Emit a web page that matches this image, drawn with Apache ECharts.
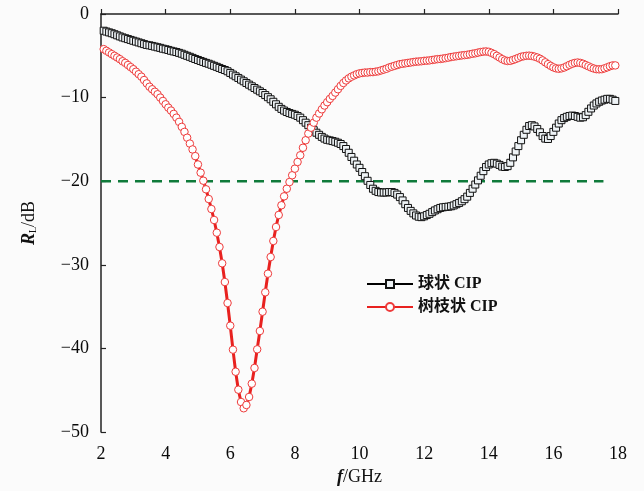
<!DOCTYPE html>
<html>
<head>
<meta charset="utf-8">
<script src="https://cdn.jsdelivr.net/npm/echarts@6/dist/echarts.min.js"></script>
<style>
  html, body { margin: 0; padding: 0; background: #fbfbfb; }
  #chart { width: 644px; height: 491px; }
</style>
</head>
<body>
<div id="chart"></div>
<script>
// Frequency sampling grid: 2 GHz + k/12 GHz, k = 1..191
const freqStep = 1 / 12;
const freqs = Array.from({ length: 191 }, (_, i) => 2 + (i + 1) * freqStep);

// Reflection loss (dB) of spherical CIP
const sphericalRL = [
  -2.0, -2.1, -2.2, -2.3, -2.42, -2.55, -2.68, -2.8, -2.9, -3.0,
  -3.1, -3.2, -3.3, -3.4, -3.5, -3.6, -3.7, -3.75, -3.82, -3.9,
  -3.98, -4.05, -4.15, -4.22, -4.3, -4.4, -4.48, -4.55, -4.65, -4.75,
  -4.88, -5.0, -5.12, -5.25, -5.38, -5.5, -5.62, -5.73, -5.85, -5.95,
  -6.07, -6.2, -6.32, -6.45, -6.58, -6.7, -6.85, -7.05, -7.25, -7.45,
  -7.65, -7.85, -8.05, -8.25, -8.45, -8.65, -8.85, -9.05, -9.25, -9.45,
  -9.7, -9.95, -10.2, -10.5, -10.8, -11.1, -11.35, -11.55, -11.72, -11.85,
  -11.95, -12.05, -12.2, -12.4, -12.7, -13.0, -13.3, -13.6, -13.9, -14.2,
  -14.45, -14.7, -14.9, -15.05, -15.12, -15.2, -15.28, -15.4, -15.55, -15.8,
  -16.15, -16.6, -17.1, -17.55, -18.0, -18.4, -18.9, -19.4, -19.95, -20.45,
  -20.9, -21.15, -21.3, -21.35, -21.35, -21.35, -21.3, -21.3, -21.4, -21.6,
  -21.9, -22.3, -22.75, -23.2, -23.55, -23.85, -24.1, -24.25, -24.3, -24.2,
  -24.05, -23.9, -23.7, -23.5, -23.35, -23.2, -23.12, -23.08, -23.05, -23.0,
  -22.9, -22.75, -22.6, -22.4, -22.15, -21.85, -21.4, -20.9, -20.4, -19.9,
  -19.35, -18.8, -18.3, -18.0, -17.85, -17.8, -17.9, -18.05, -18.25, -18.3,
  -18.2, -17.8, -17.15, -16.45, -15.8, -15.1, -14.45, -13.85, -13.4, -13.3,
  -13.45, -13.75, -14.15, -14.6, -14.9, -14.95, -14.6, -14.1, -13.6, -13.1,
  -12.7, -12.45, -12.3, -12.2, -12.15, -12.2, -12.3, -12.4, -12.35, -12.1,
  -11.7, -11.3, -10.95, -10.7, -10.5, -10.35, -10.25, -10.15, -10.15, -10.25, -10.4
];

// Reflection loss (dB) of dendritic CIP
const dendriticRL = [
  -4.2, -4.4, -4.6, -4.8, -5.0, -5.2, -5.4, -5.65, -5.85, -6.1,
  -6.35, -6.6, -6.9, -7.2, -7.5, -7.9, -8.3, -8.7, -9.0, -9.3,
  -9.6, -10.0, -10.4, -10.8, -11.2, -11.55, -11.95, -12.4, -12.9, -13.5,
  -14.1, -14.8, -15.5, -16.2, -17.0, -18.0,
  -18.98, -19.94, -20.97, -22.13, -23.33, -24.64, -26.16, -27.87, -29.82, -32.06,
  -34.57, -37.28, -40.15, -42.79, -44.94, -46.41, -47.16,
  -46.77, -45.81, -44.22, -42.34, -40.11, -37.92, -35.61, -33.29, -31.06, -29.07,
  -27.15, -25.48, -24.04, -22.88, -21.81, -20.90, -20.10, -19.29,
  -18.5, -17.7, -16.9, -16.0, -15.1, -14.3, -13.6, -13.0, -12.4, -11.9,
  -11.4, -10.95, -10.55, -10.15, -9.8, -9.4, -9.0, -8.6, -8.25,
  -7.95, -7.7, -7.5, -7.35, -7.2, -7.1, -7.05, -7.0, -7.0, -6.95,
  -6.95, -6.9, -6.85, -6.75, -6.65, -6.55, -6.4, -6.3, -6.2, -6.1,
  -6.0, -5.95, -5.9, -5.85, -5.8, -5.75, -5.7, -5.68, -5.65, -5.6,
  -5.58, -5.55, -5.5, -5.45, -5.4, -5.38, -5.33, -5.28, -5.22, -5.15,
  -5.1, -5.05, -5.0, -4.95, -4.92, -4.88, -4.82, -4.75, -4.7, -4.62,
  -4.55, -4.5, -4.48, -4.52, -4.65, -4.8, -5.0, -5.2, -5.4, -5.55,
  -5.62, -5.6, -5.5, -5.38, -5.25, -5.12, -5.05, -5.0, -4.98, -5.02,
  -5.1, -5.2, -5.35, -5.55, -5.78, -6.0, -6.2, -6.38, -6.5, -6.55,
  -6.5, -6.4, -6.25, -6.08, -5.95, -5.85, -5.8, -5.85, -5.95, -6.1,
  -6.25, -6.4, -6.52, -6.6, -6.62, -6.6, -6.5, -6.38, -6.25, -6.15, -6.15
];

// -20 dB reference level and its frequency span
const refLevel = -20;
const refSpan = [2, 17.55];

// Axis ticks
const xTicks = [2, 4, 6, 8, 10, 12, 14, 16, 18];
const yTicks = [-50, -40, -30, -20, -10, 0];

const seriesNames = ['球状 CIP', '树枝状 CIP'];

const serif = '"Liberation Serif", "Noto Sans CJK SC", serif';
const pair = (ys) => freqs.map((f, i) => [f, ys[i]]);
const minus = (v) => String(v).replace('-', '\u2212');

const chart = echarts.init(document.getElementById('chart'), null, { renderer: 'canvas' });

chart.setOption({
  backgroundColor: '#fbfbfb',
  animation: false,
  grid: { left: 101, right: 26, top: 14, bottom: 59 },
  legend: {
    orient: 'vertical',
    left: 361,
    top: 271,
    itemWidth: 46,
    itemHeight: 10,
    itemGap: 7,
    data: seriesNames,
    textStyle: { fontFamily: serif, fontSize: 16, fontWeight: 'bold', color: '#111' }
  },
  xAxis: {
    type: 'value',
    min: xTicks[0],
    max: xTicks[xTicks.length - 1],
    interval: xTicks[1] - xTicks[0],
    name: '{i|f}{n|/GHz}',
    nameLocation: 'middle',
    nameGap: 19,
    nameTextStyle: {
      rich: {
        i: { fontFamily: serif, fontStyle: 'italic', fontWeight: 'bold', fontSize: 18, color: '#111' },
        n: { fontFamily: serif, fontSize: 18, color: '#111' }
      }
    },
    axisLine: { lineStyle: { color: '#222', width: 1.5 } },
    axisTick: { inside: true, length: 5, lineStyle: { color: '#222', width: 1.2 } },
    axisLabel: { margin: 13, fontFamily: serif, fontSize: 18, color: '#0a0a0a' },
    splitLine: { show: false }
  },
  yAxis: {
    type: 'value',
    min: yTicks[0],
    max: yTicks[yTicks.length - 1],
    interval: yTicks[1] - yTicks[0],
    name: '{i|R}{s|L}{n|/dB}',
    nameLocation: 'middle',
    nameRotate: 90,
    nameGap: 63,
    nameTextStyle: {
      rich: {
        i: { fontFamily: serif, fontStyle: 'italic', fontWeight: 'bold', fontSize: 18, color: '#111' },
        s: { fontFamily: serif, fontSize: 10, color: '#111', verticalAlign: 'bottom', padding: [6, 0, 0, 0] },
        n: { fontFamily: serif, fontSize: 18, color: '#111' }
      }
    },
    axisLine: { show: true, lineStyle: { color: '#222', width: 1.5 } },
    axisTick: { show: true, inside: true, length: 5, lineStyle: { color: '#222', width: 1.2 } },
    axisLabel: { margin: 12, fontFamily: serif, fontSize: 18, color: '#0a0a0a', formatter: minus },
    splitLine: { show: false }
  },
  series: [
    {
      name: 'ref',
      type: 'line',
      data: refSpan.map((f) => [f, refLevel]),
      symbol: 'none',
      silent: true,
      lineStyle: { color: '#0f7a3a', width: 2.5, type: [10, 7] },
      z: 1
    },
    {
      name: seriesNames[0],
      type: 'line',
      data: pair(sphericalRL),
      symbol: 'rect',
      symbolSize: 7,
      showAllSymbol: true,
      lineStyle: { color: '#000', width: 2.5 },
      itemStyle: { color: '#eef3f6', borderColor: '#111', borderWidth: 1 },
      z: 2
    },
    {
      name: seriesNames[1],
      type: 'line',
      data: pair(dendriticRL),
      symbol: 'circle',
      symbolSize: 7.5,
      showAllSymbol: true,
      lineStyle: { color: '#e8211f', width: 3 },
      itemStyle: { color: '#ffffff', borderColor: '#ee3b3b', borderWidth: 1 },
      z: 3
    }
  ]
});
</script>
</body>
</html>
